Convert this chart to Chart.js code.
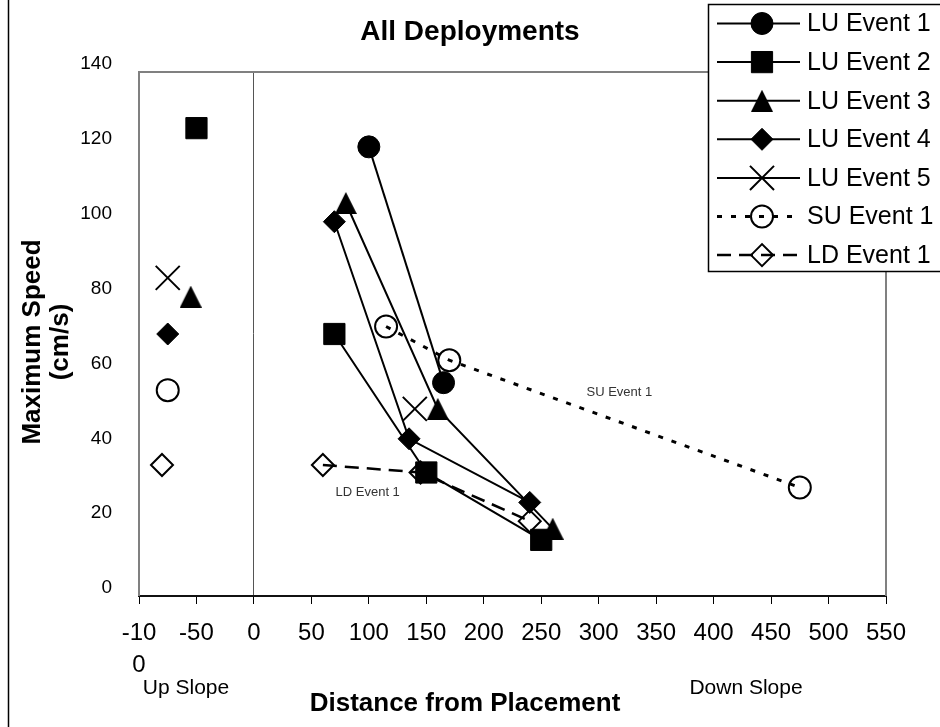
<!DOCTYPE html>
<html>
<head>
<meta charset="utf-8">
<script src="https://cdn.jsdelivr.net/npm/chart.js@4.4.1/dist/chart.umd.min.js"></script>
<style>
html,body{margin:0;padding:0;background:#fff;}
#wrap{width:940px;height:727px;position:relative;}
</style>
</head>
<body>
<div id="wrap"><canvas id="c" width="940" height="727"></canvas></div>
<script>
// ---- data ----
const seriesNames = ['LU Event 1','LU Event 2','LU Event 3','LU Event 4','LU Event 5','SU Event 1','LD Event 1'];
const upSlopeX = [null, -50, -55, -75, -75, -75, -80];
const upSlopeY = [null, 125, 80, 70, 85, 55, 35];
const lu1X = [100, 165];        const lu1Y = [120, 57];
const lu2X = [70, 150, 250];    const lu2Y = [70, 33, 15];
const lu3X = [80, 160, 260];    const lu3Y = [105, 50, 18];
const lu4X = [70, 135, 240];    const lu4Y = [100, 42, 25];
const lu5X = [140];             const lu5Y = [50];
const su1X = [115, 170, 475];   const su1Y = [72, 63, 29];
const ld1X = [60, 145, 240];    const ld1Y = [35, 33, 20];
const xTickLabels = [['-10','0'],'-50','0','50','100','150','200','250','300','350','400','450','500','550'];
const yTickLabels = ['0','20','40','60','80','100','120','140'];
const noteTexts = ['SU Event 1', 'LD Event 1'];
const noteX = [318, 99];
const noteY = [54.5, 27.8];

const FONT = "'Liberation Sans', Arial, Helvetica, sans-serif";
Chart.defaults.font.family = FONT;
Chart.defaults.color = '#000';

function makeTriangle(w, h) {
  const c = document.createElement('canvas');
  c.width = w; c.height = h;
  const g = c.getContext('2d');
  g.fillStyle = '#000';
  g.beginPath(); g.moveTo(w / 2, 0); g.lineTo(w, h); g.lineTo(0, h); g.closePath(); g.fill();
  return c;
}
const triangleImg = makeTriangle(22, 22);

function buildPoints(i, xs, ys) {
  const pts = [];
  if (upSlopeY[i] !== null) {
    pts.push({x: upSlopeX[i], y: upSlopeY[i]});
    pts.push({x: 0, y: null});
  }
  xs.forEach((x, j) => pts.push({x: x, y: ys[j]}));
  return pts;
}

const xsAll = [lu1X, lu2X, lu3X, lu4X, lu5X, su1X, ld1X];
const ysAll = [lu1Y, lu2Y, lu3Y, lu4Y, lu5Y, su1Y, ld1Y];
const styles = [
  {pointStyle: 'circle',  pointRadius: 11, pointBorderWidth: 1, pointBackgroundColor: '#000', borderWidth: 2, borderDash: []},
  {pointStyle: 'rect',    pointRadius: 15, pointBorderWidth: 1, pointBackgroundColor: '#000', borderWidth: 2, borderDash: []},
  {pointStyle: triangleImg, pointRadius: 11, pointBorderWidth: 0, pointBackgroundColor: '#000', borderWidth: 2, borderDash: []},
  {pointStyle: 'rectRot', pointRadius: 11, pointBorderWidth: 1, pointBackgroundColor: '#000', borderWidth: 2, borderDash: []},
  {pointStyle: 'crossRot',pointRadius: 17, pointBorderWidth: 2, pointBackgroundColor: '#000', borderWidth: 2, borderDash: []},
  {pointStyle: 'circle',  pointRadius: 11, pointBorderWidth: 2, pointBackgroundColor: 'rgba(0,0,0,0)', borderWidth: 3, borderDash: [5, 9]},
  {pointStyle: 'rectRot', pointRadius: 11, pointBorderWidth: 2, pointBackgroundColor: 'rgba(0,0,0,0)', borderWidth: 2.5, borderDash: [14, 8]}
];

const datasets = seriesNames.map((name, i) => Object.assign({
  label: name,
  data: buildPoints(i, xsAll[i], ysAll[i]),
  showLine: true,
  spanGaps: false,
  borderColor: '#000',
  pointBorderColor: '#000',
  fill: false,
  tension: 0
}, styles[i]));

const overlay = {
  id: 'overlay',
  beforeDatasetsDraw(chart) {
    const {ctx, chartArea: a} = chart;
    ctx.save();
    ctx.strokeStyle = '#808080';
    ctx.lineWidth = 2;
    ctx.beginPath();
    ctx.moveTo(a.left, a.bottom); ctx.lineTo(a.left, a.top); ctx.lineTo(a.right, a.top); ctx.lineTo(a.right, a.bottom);
    ctx.stroke();
    ctx.restore();
  },
  afterDraw(chart) {
    const {ctx} = chart;
    const xs = chart.scales.x, ys = chart.scales.y;
    ctx.save();
    // outer frame line
    ctx.strokeStyle = '#000'; ctx.lineWidth = 1.5;
    ctx.beginPath(); ctx.moveTo(8.5, 0); ctx.lineTo(8.5, 727); ctx.stroke();

    // notes
    ctx.fillStyle = '#333';
    ctx.font = '13px ' + FONT;
    ctx.textAlign = 'center'; ctx.textBaseline = 'middle';
    noteTexts.forEach((t, i) => ctx.fillText(t, xs.getPixelForValue(noteX[i]), ys.getPixelForValue(noteY[i])));

    // axis titles
    ctx.fillStyle = '#000';
    ctx.font = 'bold 26px ' + FONT;
    ctx.fillText('Distance from Placement', 465, 704);
    ctx.font = '21px ' + FONT;
    ctx.fillText('Up Slope', 186, 688);
    ctx.fillText('Down Slope', 746, 688);
    ctx.save();
    ctx.translate(33, 342); ctx.rotate(-Math.PI / 2);
    ctx.font = 'bold 26px ' + FONT;
    ctx.fillText('Maximum Speed', 0, 0);
    ctx.restore();
    ctx.save();
    ctx.translate(61, 342); ctx.rotate(-Math.PI / 2);
    ctx.font = 'bold 26px ' + FONT;
    ctx.fillText('(cm/s)', 0, 0);
    ctx.restore();

    // legend
    ctx.fillStyle = '#fff';
    ctx.fillRect(708, 4, 240, 268);
    ctx.strokeStyle = '#000'; ctx.lineWidth = 1.5;
    ctx.strokeRect(708.5, 4.5, 240, 267);
    chart.data.datasets.forEach((d, i) => {
      const y = 23.5 + i * 38.6;
      ctx.save();
      ctx.strokeStyle = '#000'; ctx.lineWidth = d.borderWidth;
      ctx.setLineDash(d.borderDash || []);
      ctx.beginPath(); ctx.moveTo(717, y); ctx.lineTo(800, y); ctx.stroke();
      ctx.restore();
      ctx.save();
      if (d.pointStyle instanceof HTMLCanvasElement) {
        ctx.drawImage(d.pointStyle, 762 - d.pointStyle.width / 2, y - d.pointStyle.height / 2);
      } else {
        ctx.fillStyle = d.pointBackgroundColor;
        ctx.strokeStyle = d.pointBorderColor;
        ctx.lineWidth = d.pointBorderWidth;
        Chart.helpers.drawPoint(ctx, {pointStyle: d.pointStyle, radius: d.pointRadius, rotation: 0, borderWidth: d.pointBorderWidth}, 762, y);
      }
      ctx.restore();
      ctx.fillStyle = '#000';
      ctx.font = '25px ' + FONT;
      ctx.textAlign = 'left'; ctx.textBaseline = 'middle';
      ctx.fillText(d.label, 807, y + 1);
    });
    ctx.restore();
  }
};

new Chart(document.getElementById('c'), {
  type: 'scatter',
  data: {datasets: datasets},
  plugins: [overlay],
  options: {
    responsive: false,
    animation: false,
    events: [],
    layout: {padding: {left: 54, right: 54, top: 0, bottom: 0}},
    plugins: {
      legend: {display: false},
      tooltip: {enabled: false},
      title: {
        display: true,
        text: 'All Deployments',
        color: '#000',
        font: {size: 28, weight: 'bold', family: FONT, lineHeight: 1.2},
        padding: {top: 15, bottom: 23.4}
      }
    },
    scales: {
      x: {
        type: 'linear',
        min: -100, max: 550,
        afterFit(scale) { scale.height = 131; },
        border: {display: true, color: '#111', width: 2},
        grid: {
          drawTicks: true,
          tickLength: 8,
          tickColor: '#000',
          tickWidth: 1,
          lineWidth: 1,
          color: (c) => (c.tick && c.tick.value === 0) ? '#555' : 'rgba(0,0,0,0)'
        },
        ticks: {
          stepSize: 50,
          autoSkip: false,
          maxRotation: 0,
          minRotation: 0,
          padding: 13,
          font: {size: 24, family: FONT, lineHeight: 1.35},
          color: '#000',
          callback: (v, i) => xTickLabels[i]
        }
      },
      y: {
        type: 'linear',
        min: 0, max: 140,
        afterFit(scale) { scale.width = 85; },
        border: {display: false},
        grid: {display: false, drawTicks: false},
        ticks: {
          stepSize: 20,
          padding: 27,
          labelOffset: -8,
          font: {size: 19, family: FONT},
          color: '#000',
          callback: (v, i) => yTickLabels[i]
        }
      }
    }
  }
});
</script>
</body>
</html>
